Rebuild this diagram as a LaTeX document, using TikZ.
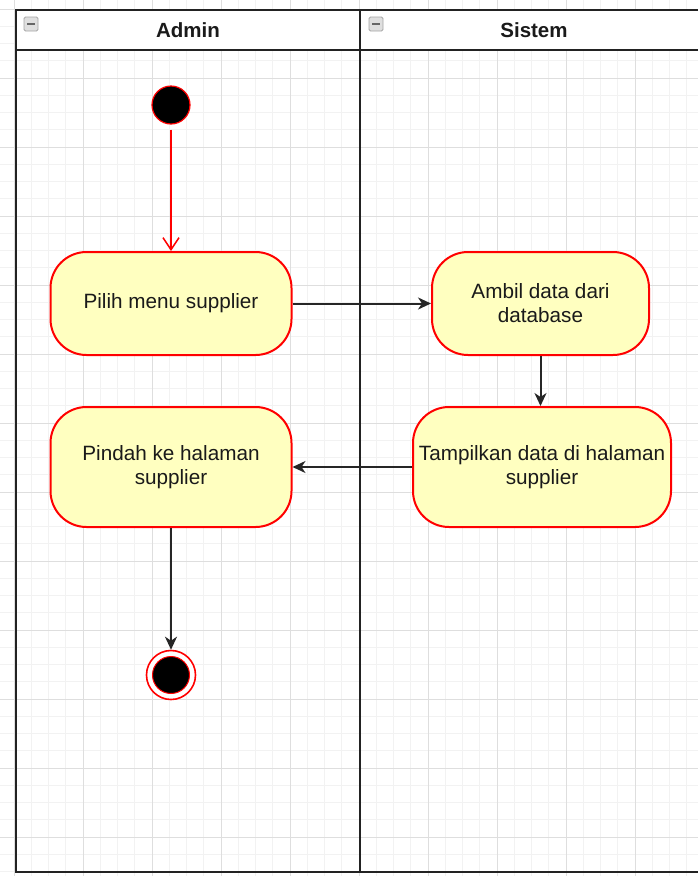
\documentclass[tikz,border=0pt]{standalone}
\usepackage{fontspec}
\setmainfont{Liberation Sans}
\usetikzlibrary{arrows.meta}
\definecolor{gridminor}{HTML}{F2F2F2}
\definecolor{gridmajor}{HTML}{DEDEDE}
\definecolor{actfill}{HTML}{FFFFC0}
\definecolor{actdraw}{HTML}{FF0000}
\definecolor{txt}{HTML}{1A1A1A}
\definecolor{pool}{HTML}{222222}
\tikzset{
  act/.style={draw=actdraw, fill=actfill, line width=2pt, rounded corners=36pt,
    inner sep=0pt, align=center, font=\fontsize{20.7}{24}\selectfont, text=txt},
  flow/.style={draw=black!85, line width=2pt, -{Stealth[length=13pt,width=12pt,inset=4pt]}},
  redflow/.style={draw=actdraw, line width=1.5pt, -{Straight Barb[length=12pt,width=16pt]}},
  lanetitle/.style={font=\bfseries\fontsize{20.5}{24}\selectfont, text=txt},
  poolline/.style={draw=pool, line width=2.3pt},
  icon/.style={draw=gray!70, fill=gray!25, rounded corners=1.5pt, line width=0.8pt}
}
\begin{document}
\begin{tikzpicture}[x=1pt,y=-1pt]
\useasboundingbox (0,0) rectangle (698,876);
\fill[white] (0,0) rectangle (698,876);
% grid
\foreach \i in {0,...,42} {
  \draw[gridminor, line width=0.9pt] ({-3.25+17.25*\i},0) -- ({-3.25+17.25*\i},876);
}
\foreach \j in {0,...,52} {
  \draw[gridminor, line width=0.9pt] (0,{-8.25+17.25*\j}) -- (698,{-8.25+17.25*\j});
}
\foreach \i in {0,...,10} {
  \draw[gridmajor, line width=1pt] ({14+69*\i},0) -- ({14+69*\i},876);
}
\foreach \j in {0,...,12} {
  \draw[gridmajor, line width=1pt] (0,{9+69*\j}) -- (698,{9+69*\j});
}
% pool header
\fill[white] (16,10) rectangle (700,50);
\draw[poolline] (700,10) -- (16,10) -- (16,872) -- (700,872);
\draw[poolline] (16,50) -- (700,50);
\draw[poolline] (360,10) -- (360,872);
% icons
\draw[icon] (24,17) rectangle (38,31);
\draw[gray!80!black, line width=1.8pt] (27,24) -- (35,24);
\draw[icon] (369,17) rectangle (383,31);
\draw[gray!80!black, line width=1.8pt] (372,24) -- (380,24);
% titles
\node[lanetitle] (tadmin) at (188,30) {Admin};
\node[lanetitle] (tsistem) at (534,30) {Sistem};
% start
\node[circle, draw=actdraw, fill=black, line width=1.2pt, minimum size=38pt, inner sep=0pt] (start) at (171,105) {};
% activities
\node[act, minimum width=241pt, minimum height=103pt] (pilih) at (171,303.5) {Pilih menu supplier};
\node[act, minimum width=217pt, minimum height=103pt] (ambil) at (540.5,303.5) {Ambil data dari\\database};
\node[act, minimum width=258pt, minimum height=120pt] (tampil) at (542,467) {Tampilkan data di halaman\\supplier};
\node[act, minimum width=241pt, minimum height=120pt] (pindah) at (171,467) {Pindah ke halaman\\supplier};
% end
\node[circle, draw=actdraw, fill=white, line width=1.6pt, minimum size=49pt, inner sep=0pt] (end) at (171,675) {};
\node[circle, draw=actdraw, fill=black, line width=1pt, minimum size=37pt, inner sep=0pt] (endin) at (end.center) {};
% connectors
\draw[redflow, shorten <=5pt] (start.south) -- (pilih.north);
\draw[flow] (pilih.east) -- (ambil.west);
\draw[flow] (ambil.south) -- (ambil.south |- tampil.north);
\draw[flow] (tampil.west) -- (pindah.east);
\draw[flow] (pindah.south) -- (end.north);
\end{tikzpicture}
\end{document}
